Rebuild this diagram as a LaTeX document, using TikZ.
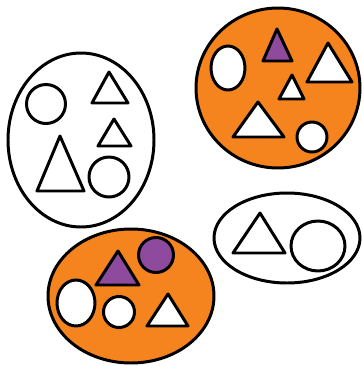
\documentclass[tikz,border=0pt]{standalone}
\usepackage{tikz}
\usepackage{xcolor}
\definecolor{setorange}{HTML}{F5841F}
\definecolor{setpurple}{HTML}{8E4A9C}

\begin{document}
\begin{tikzpicture}[x=0.02cm,y=-0.02cm,line width=1.7pt,line join=round,
  bag/.style={draw=black,fill=white},
  fullbag/.style={draw=black,fill=setorange},
  item/.style={draw=black,fill=white},
  marked/.style={draw=black,fill=setpurple}]
\useasboundingbox (0,0) rectangle (362,366);
% left set
\draw[bag] (81,140) ellipse (73 and 87);
\draw[item] (46,104) circle (19.5);
\draw[item] (109,72)--(128,103)--(92,103)--cycle;
\draw[item] (114,119)--(131,146)--(98,146)--cycle;
\draw[item] (60,136)--(84,191)--(37,191)--cycle;
\draw[item] (109,177) circle (20);
% top right set
\draw[fullbag] (278,88) ellipse (82 and 80);
\draw[item] (228,68) ellipse (17 and 22);
\draw[marked] (277,29)--(292,61)--(263,61)--cycle;
\draw[item] (328,43)--(352,82)--(307,82)--cycle;
\draw[item] (292,75)--(304,99)--(279,99)--cycle;
\draw[item] (258,102)--(284,137)--(233,137)--cycle;
\draw[item] (312,137) circle (15);
% bottom set
\draw[fullbag] (131,296) ellipse (83 and 67);
\draw[marked] (118,251)--(139,285)--(96,285)--cycle;
\draw[marked] (156,255) circle (17.5);
\draw[item] (76,303) ellipse (19 and 23);
\draw[item] (119,312) circle (15.5);
\draw[item] (168,294)--(188,326)--(147,326)--cycle;
% right set
\draw[bag] (287,238) ellipse (73 and 45);
\draw[item] (260,213)--(285,253)--(233,253)--cycle;
\draw[item] (318,246) ellipse (27 and 25);
\end{tikzpicture}
\end{document}
